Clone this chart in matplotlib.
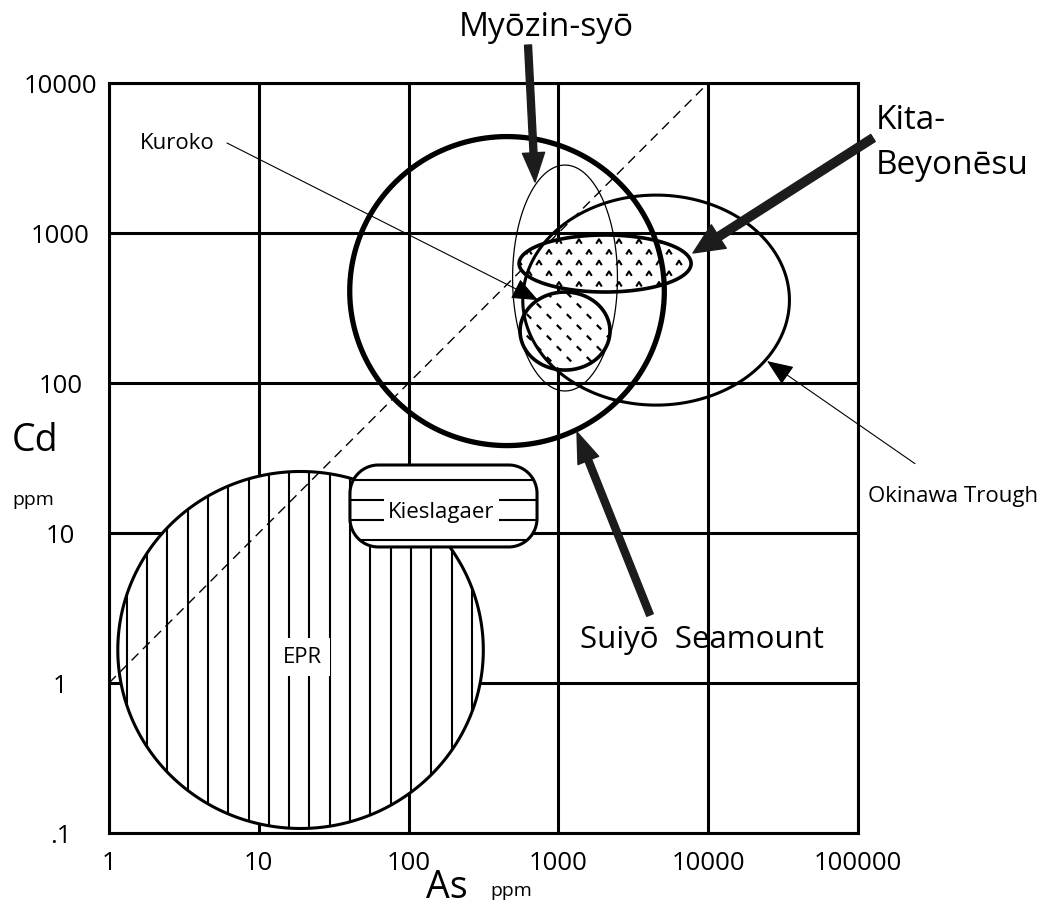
import numpy as np
import matplotlib
matplotlib.use("Agg")
import matplotlib.pyplot as plt
from matplotlib.patches import Polygon, FancyArrowPatch, ArrowStyle
from matplotlib.collections import LineCollection

plt.rcParams['font.family'] = ['Open Sans', 'DejaVu Sans']

# Axis ticks
x_ticks = [1, 10, 100, 1000, 10000, 100000]
x_tick_labels = ["1", "10", "100", "1000", "10000", "100000"]
y_ticks = [0.1, 1, 10, 100, 1000, 10000]
y_tick_labels = [".1", "1", "10", "100", "1000", "10000"]

# Oval fields: centre (As, Cd in ppm) and half extent in decades
oval_names = ["EPR", "Suiyo", "Myozin", "Okinawa", "Kita", "Kuroko"]
oval_as = [19, 454, 1107, 4490, 2050, 1107]
oval_cd = [1.66, 410, 501, 357, 626, 222]
oval_dx = [1.22, 1.05, 0.35, 0.89, 0.574, 0.30]
oval_dy = [1.19, 1.03, 0.753, 0.70, 0.19, 0.26]

# Kieslagaer field (As range, Cd range in ppm)
kies_as = [40.6, 720]
kies_cd = [8.07, 28.4]

# Label arrows: tail -> tip (As, Cd)
arrow_names = ["Myozin", "Kita", "Suiyo"]
arrow_tail_as = [627, 125900, 4087]
arrow_tail_cd = [17900, 4300, 2.84]
arrow_tip_as = [698, 7920, 1331]
arrow_tip_cd = [2188, 736, 47.1]

# Thin pointer lines: Kuroko, Okinawa Trough
pointer_tail_as = [6.13, 240000]
pointer_tail_cd = [3981, 29.0]
pointer_tip_as = [731, 24700]
pointer_tip_cd = [357, 140]

AX_W, AX_H = 749, 750  # axes size in pixels


def oval(name, n=300):
    i = oval_names.index(name)
    t = np.linspace(0, 2 * np.pi, n)
    lx = np.log10(oval_as[i]) + oval_dx[i] * np.cos(t)
    ly = np.log10(oval_cd[i]) + oval_dy[i] * np.sin(t)
    return np.column_stack([10 ** lx, 10 ** ly])


def rounded_box(xr, yr, r=0.19, n=40):
    x0, x1 = np.log10(xr)
    y0, y1 = np.log10(yr)
    pts = []
    for cx, cy, a0 in [(x1 - r, y1 - r, 0), (x0 + r, y1 - r, 90),
                       (x0 + r, y0 + r, 180), (x1 - r, y0 + r, 270)]:
        a = np.radians(np.linspace(a0, a0 + 90, n))
        pts.append(np.column_stack([cx + r * np.cos(a), cy + r * np.sin(a)]))
    return 10 ** np.vstack(pts)


def texture(ax, patch, verts, size, lw, zorder, dx=20.0, dy=10.7):
    # staggered grid of small marks, clipped to the field
    pts = []
    for j, y in enumerate(np.arange(3, AX_H, dy)):
        for x in np.arange((j % 2) * dx / 2, AX_W, dx):
            pts.append((x / AX_W, y / AX_H))
    pts = np.array(pts)
    sc = ax.scatter(pts[:, 0], pts[:, 1], s=size, marker=verts,
                    facecolors='none', edgecolors='k', linewidths=lw,
                    transform=ax.transAxes, zorder=zorder)
    sc.set_clip_path(patch)


fig = plt.figure(figsize=(10.45, 9.22), dpi=100)
ax = fig.add_axes([109 / 1045, 1 - 833 / 922, AX_W / 1045, AX_H / 922])
ax.set_xscale('log')
ax.set_yscale('log')
ax.set_xlim(1, 1e5)
ax.set_ylim(0.1, 1e4)
ax.set_xticks(x_ticks)
ax.set_xticklabels(x_tick_labels)
ax.set_yticks(y_ticks)
ax.set_yticklabels(y_tick_labels)
ax.minorticks_off()
ax.tick_params(axis='both', length=0, labelsize=18.5)
ax.tick_params(axis='x', pad=13)
ax.tick_params(axis='y', pad=35)
for lab in ax.get_yticklabels():
    lab.set_horizontalalignment('center')
ax.set_axisbelow(True)
ax.grid(True, which='major', color='k', lw=2.2)
for sp in ax.spines.values():
    sp.set_linewidth(2.2)

# EPR: white disc with vertical rules
epr = Polygon(oval("EPR"), closed=True, facecolor='white', edgecolor='none', zorder=2)
ax.add_patch(epr)
xs = (17.7 + 20.3 * np.arange(37)) / AX_W
rules = LineCollection([[(x, 0), (x, 1)] for x in xs], transform=ax.transAxes,
                       colors='k', linewidths=1.5, zorder=2.1)
rules.set_clip_path(epr)
ax.add_collection(rules)
ax.add_patch(Polygon(oval("EPR"), closed=True, facecolor='none', edgecolor='k',
                     lw=2.2, zorder=2.2))
ax.text(19.5, 1.49, "EPR", fontsize=16, ha='center', va='center', zorder=2.3,
        bbox=dict(facecolor='white', edgecolor='none', pad=6))

# 1:1 line
ax.plot([1, 1e4], [1, 1e4], color='k', lw=1, ls=(0, (7, 4.5)), zorder=2.5)

# Kieslagaer: rounded box with horizontal rules
kv = rounded_box(kies_as, kies_cd)
kies = Polygon(kv, closed=True, facecolor='white', edgecolor='none', zorder=3)
ax.add_patch(kies)
ys = (13 + 20 * np.arange(38)) / AX_H
hr = LineCollection([[(0, y), (1, y)] for y in ys], transform=ax.transAxes,
                    colors='k', linewidths=1.5, zorder=3.1)
hr.set_clip_path(kies)
ax.add_collection(hr)
ax.add_patch(Polygon(kv, closed=True, facecolor='none', edgecolor='k', lw=2.2, zorder=3.2))
ax.text(np.sqrt(kies_as[0] * kies_as[1]) * 0.97, np.sqrt(kies_cd[0] * kies_cd[1]) * 0.9, "Kieslagaer",
        fontsize=16, ha='center', va='center', zorder=3.3,
        bbox=dict(facecolor='white', edgecolor='none', pad=3))

# Kita-Beyonesu and Kuroko fields with mark textures
caret = [(-1, -0.8), (0, 0.8), (1, -0.8)]
dash = [(-1, 1), (1, -1)]
for name, mark, size, lw in [("Kita", caret, 16, 1.5), ("Kuroko", dash, 10, 1.6)]:
    p = Polygon(oval(name), closed=True, facecolor='white', edgecolor='none', zorder=4)
    ax.add_patch(p)
    texture(ax, p, mark, size, lw, 4.1)

# outlines
outline_style = {"Suiyo": 3.8, "Myozin": 0.9, "Okinawa": 2.2, "Kita": 2.6, "Kuroko": 2.6}
for name, lw in outline_style.items():
    ax.add_patch(Polygon(oval(name), closed=True, facecolor='none', edgecolor='k',
                         lw=lw, zorder=5))

# big label arrows
heads = {"Myozin": (21, 16, 5), "Kita": (22, 20, 6), "Suiyo": (22, 16, 5)}
for i, name in enumerate(arrow_names):
    hl, hw, tw = heads[name]
    arr = FancyArrowPatch((arrow_tail_as[i], arrow_tail_cd[i]),
                          (arrow_tip_as[i], arrow_tip_cd[i]),
                          arrowstyle=ArrowStyle.Simple(head_length=hl, head_width=hw, tail_width=tw),
                          mutation_scale=1, color='#1c1c1c', shrinkA=0, shrinkB=0,
                          zorder=7, clip_on=False)
    ax.add_patch(arr)

# thin pointer lines
for i in range(2):
    ax.annotate("", xy=(pointer_tip_as[i], pointer_tip_cd[i]),
                xytext=(pointer_tail_as[i], pointer_tail_cd[i]),
                arrowprops=dict(arrowstyle='-|>,head_length=1.1,head_width=0.45', lw=0.8,
                                color='k', shrinkA=0, shrinkB=0, mutation_scale=15),
                annotation_clip=False, zorder=7)

# labels
ax.text(826, 23600, "Myōzin-syō", fontsize=24, ha='center', va='center', clip_on=False)
ax.text(132000, 3981, "Kita-\nBeyonēsu", fontsize=24, ha='left', va='center',
        linespacing=1.45, clip_on=False)
ax.text(1.61, 3981, "Kuroko", fontsize=16, ha='left', va='center')
ax.text(430000, 17.4, "Okinawa Trough", fontsize=16, ha='center', va='center', clip_on=False)
ax.text(1400, 1.93, "Suiyō  Seamount", fontsize=22.5, ha='left', va='center')

fig.text(12 / 1045, 1 - 441 / 922, "Cd", fontsize=27, ha='left', va='center')
fig.text(12 / 1045, 1 - 500 / 922, "ppm", fontsize=14, ha='left', va='center')
fig.text(447 / 1045, 1 - 888 / 922, "As", fontsize=27, ha='center', va='center')
fig.text(490 / 1045, 1 - 891 / 922, "ppm", fontsize=14, ha='left', va='center')

fig.savefig("out.png", dpi=100, facecolor='white')
